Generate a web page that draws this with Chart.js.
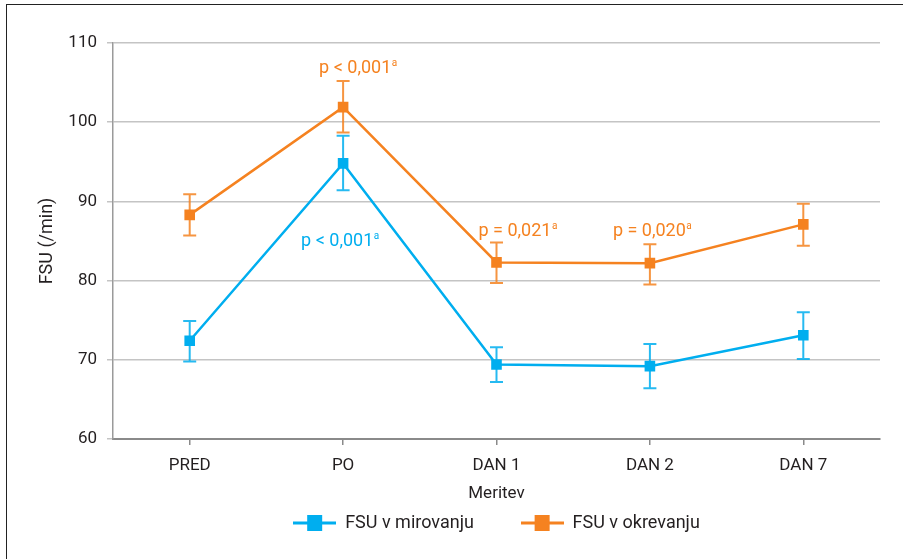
<!DOCTYPE html>
<html>
<head>
<meta charset="utf-8">
<script src="https://cdn.jsdelivr.net/npm/chart.js@4.4.1/dist/chart.umd.min.js"></script>
<style>
  html, body { margin: 0; padding: 0; background: #fff; overflow: hidden; }
  #wrap { position: relative; width: 903px; height: 559px; }
  #okvir {
    position: absolute; left: 6px; top: 4px; width: 1200px; height: 1200px;
    border-top: 1.5px solid #222; border-left: 1.5px solid #222; pointer-events: none;
  }
</style>
</head>
<body>
<div id="wrap">
  <canvas id="fsuChart" width="903" height="559"></canvas>
  <div id="okvir"></div>
</div>
<script>
// ── Podatki (odčitani s slike) ───────────────────────────────────────────────
const meritve = ['PRED', 'PO', 'DAN 1', 'DAN 2', 'DAN 7'];

// FSU v mirovanju: povprečje in meje napake
const mirovanje       = [72.4, 94.8, 69.4, 69.2, 73.1];
const mirovanjeNizko  = [69.8, 91.4, 67.2, 66.4, 70.1];
const mirovanjeVisoko = [74.9, 98.3, 71.6, 72.0, 76.0];

// FSU v okrevanju
const okrevanje       = [88.3, 101.9, 82.3, 82.2, 87.1];
const okrevanjeNizko  = [85.7, 98.7, 79.7, 79.5, 84.4];
const okrevanjeVisoko = [90.9, 105.2, 84.8, 84.6, 89.7];

// Oznake p-vrednosti
const pBesedila = ['p < 0,001', 'p < 0,001', 'p = 0,021', 'p = 0,020'];
const pMeritev  = [1, 1, 2, 3];
const pSerija   = [1, 0, 1, 1];

const yTicks = [60, 70, 80, 90, 100, 110];

// ── Barve ─────────────────────────────────────────────────────────────────────
const MODRA    = '#00AEEF';
const ORANZNA  = '#F58220';
const BESEDILO = '#231F20';
const FONT     = 'Roboto, "Open Sans", sans-serif';

// marker za legendo: črta + kvadrat
function legendMarker(color) {
    const c = document.createElement('canvas');
    c.width = 43; c.height = 16;
    const g = c.getContext('2d');
    g.strokeStyle = color;
    g.lineWidth = 3;
    g.beginPath(); g.moveTo(0, 8); g.lineTo(43, 8); g.stroke();
    g.fillStyle = color;
    g.fillRect(14, 0, 15, 16);
    return c;
}

// ── Plugin: napake (error bars) ───────────────────────────────────────────────
const napake = [[mirovanjeNizko, mirovanjeVisoko], [okrevanjeNizko, okrevanjeVisoko]];

const errorBars = {
    id: 'errorBars',
    beforeDatasetsDraw(chart) {
        const { ctx, scales: { y } } = chart;
        ctx.save();
        chart.data.datasets.forEach((ds, di) => {
            const meta = chart.getDatasetMeta(di);
            const [lo, hi] = napake[di];
            ctx.strokeStyle = ds.borderColor;
            ctx.globalAlpha = 0.85;
            ctx.lineWidth = 2;
            meta.data.forEach((pt, i) => {
                const yl = y.getPixelForValue(lo[i]);
                const yh = y.getPixelForValue(hi[i]);
                ctx.beginPath();
                ctx.moveTo(pt.x, yl); ctx.lineTo(pt.x, yh);
                ctx.moveTo(pt.x - 6.5, yl); ctx.lineTo(pt.x + 6.5, yl);
                ctx.moveTo(pt.x - 6.5, yh); ctx.lineTo(pt.x + 6.5, yh);
                ctx.stroke();
            });
        });
        ctx.restore();
    }
};

// ── Plugin: p-vrednosti ───────────────────────────────────────────────────────
const pOznake = {
    id: 'pOznake',
    afterDatasetsDraw(chart, args, opts) {
        const { ctx, scales: { y } } = chart;
        ctx.save();
        pBesedila.forEach((txt, k) => {
            const s = pSerija[k];
            const i = pMeritev[k];
            const pl = opts.mesta[k];
            const pt = chart.getDatasetMeta(s).data[i];
            const ref = pl.od === 'visoko' ? napake[s][1][i] : napake[s][0][i];
            const x = pt.x + pl.dx;
            const yb = y.getPixelForValue(ref) + pl.dy;
            ctx.fillStyle = chart.data.datasets[s].borderColor;
            ctx.textBaseline = 'alphabetic';
            ctx.textAlign = 'left';
            ctx.font = '18px ' + FONT;
            ctx.fillText(txt, x, yb);
            const w = ctx.measureText(txt).width;
            ctx.font = '10px ' + FONT;
            ctx.fillText('a', x + w + 0.5, yb - 7);
        });
        ctx.restore();
    }
};

// ── Graf ──────────────────────────────────────────────────────────────────────
const ctx = document.getElementById('fsuChart').getContext('2d');

new Chart(ctx, {
    type: 'line',
    data: {
        labels: meritve,
        datasets: [
            {
                label: 'FSU v mirovanju',
                data: mirovanje,
                borderColor: MODRA,
                backgroundColor: MODRA,
                borderWidth: 2.5,
                pointStyle: 'rect',
                pointRadius: 7.5,
                pointBorderWidth: 0,
                tension: 0,
            },
            {
                label: 'FSU v okrevanju',
                data: okrevanje,
                borderColor: ORANZNA,
                backgroundColor: ORANZNA,
                borderWidth: 2.5,
                pointStyle: 'rect',
                pointRadius: 7.5,
                pointBorderWidth: 0,
                tension: 0,
            }
        ]
    },
    options: {
        responsive: false,
        animation: false,
        layout: { padding: { left: 0, top: 43, right: 23, bottom: 17 } },
        plugins: {
            tooltip: { enabled: false },
            legend: {
                position: 'bottom',
                fullSize: false,
                labels: {
                    usePointStyle: true,
                    pointStyleWidth: 43,
                    padding: 10,
                    color: BESEDILO,
                    font: { family: FONT, size: 18 },
                    generateLabels: (chart) => chart.data.datasets.map((ds, i) => ({
                        text: i === 0 ? ds.label + '\u2003\u2003' : ds.label,
                        pointStyle: legendMarker(ds.borderColor),
                        fillStyle: ds.borderColor,
                        strokeStyle: ds.borderColor,
                        lineWidth: 0,
                        hidden: false,
                        datasetIndex: i,
                        fontColor: BESEDILO,
                    }))
                }
            },
            pOznake: {
                mesta: [
                    { od: 'visoko', dx: -24, dy: -8 },
                    { od: 'nizko',  dx: -42, dy: 56 },
                    { od: 'visoko', dx: -18, dy: -7 },
                    { od: 'visoko', dx: -37, dy: -8 },
                ]
            }
        },
        scales: {
            x: {
                offset: true,
                afterFit: (scale) => { scale.height = 65; },
                grid: { drawOnChartArea: false, offset: false, tickLength: 6, color: '#8a8a8a', lineWidth: 1.5 },
                border: { color: '#8a8a8a', width: 2 },
                ticks: { color: BESEDILO, padding: 11, font: { family: FONT, size: 17 } },
                title: { display: true, text: 'Meritev', color: BESEDILO, font: { family: FONT, size: 17 }, padding: { top: 5, bottom: 0 } }
            },
            y: {
                min: 60,
                max: 110,
                afterFit: (scale) => { scale.width = 113; },
                afterBuildTicks: (scale) => { scale.ticks = yTicks.map(v => ({ value: v })); },
                grid: { tickLength: 6, color: '#c4c4c4', lineWidth: 1.5 },
                border: { color: '#9a9a9a', width: 1.5 },
                ticks: { color: BESEDILO, padding: 10, font: { family: FONT, size: 17 } },
                title: { display: true, text: 'FSU (/min)', color: BESEDILO, font: { family: FONT, size: 18 }, padding: { top: 37, bottom: 0 } }
            }
        }
    },
    plugins: [errorBars, pOznake]
});
</script>
</body>
</html>
